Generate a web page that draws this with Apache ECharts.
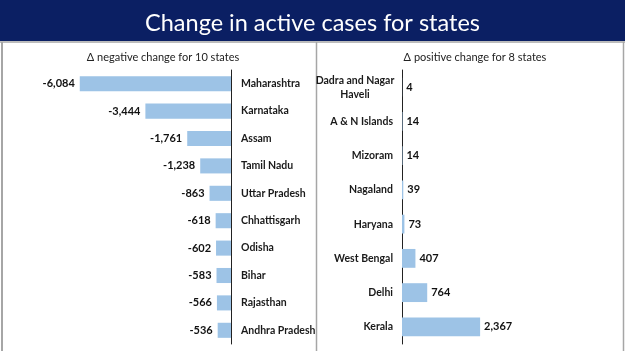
<!DOCTYPE html>
<html>
<head>
<meta charset="utf-8">
<script src="https://cdn.jsdelivr.net/npm/echarts@6/dist/echarts.min.js"></script>
<style>
  html, body { margin: 0; padding: 0; background: #fff; }
  #chart { width: 625px; height: 351px; }
</style>
</head>
<body>
<div id="chart"></div>
<script>
// States with falling active cases (left panel)
const negStates = ['Maharashtra', 'Karnataka', 'Assam', 'Tamil Nadu', 'Uttar Pradesh',
    'Chhattisgarh', 'Odisha', 'Bihar', 'Rajasthan', 'Andhra Pradesh'];
const negValues = [-6084, -3444, -1761, -1238, -863, -618, -602, -583, -566, -536];

// States with rising active cases (right panel)
const posStates = ['Dadra and Nagar Haveli', 'A & N Islands', 'Mizoram', 'Nagaland',
    'Haryana', 'West Bengal', 'Delhi', 'Kerala'];
const posValues = [4, 14, 14, 39, 73, 407, 764, 2367];

const FONT = 'Lato, "Open Sans", sans-serif';
const BAR = '#9dc3e6';
const BORDER = '#a6a6a6';

const fmt = v => Number(v).toLocaleString('en-US');

const chart = echarts.init(document.getElementById('chart'));

const catLabel = {
    fontFamily: FONT,
    fontWeight: 'bold',
    fontSize: 10.5,
    color: '#1a1a1a'
};

chart.setOption({
    animation: false,
    title: [
        {
            text: 'Change in active cases for states',
            left: 'center', top: 6,
            textStyle: { fontFamily: FONT, fontWeight: 'normal', fontSize: 23.5, color: '#fff' }
        },
        {
            text: 'Δ negative change for 10 states',
            left: 158, top: 47, textAlign: 'center',
            textStyle: { fontFamily: FONT, fontWeight: 'normal', fontSize: 11, color: '#222' }
        },
        {
            text: 'Δ positive change for 8 states',
            left: 470, top: 47, textAlign: 'center',
            textStyle: { fontFamily: FONT, fontWeight: 'normal', fontSize: 11, color: '#222' }
        }
    ],
    graphic: [
        { type: 'rect', z: -1, shape: { x: 0, y: 0, width: 625, height: 41 }, style: { fill: '#0b1f63' } },
        { type: 'line', shape: { x1: 0, y1: 42, x2: 625, y2: 42 }, style: { stroke: BORDER, lineWidth: 1.5 } },
        { type: 'line', shape: { x1: 2, y1: 42, x2: 2, y2: 351 }, style: { stroke: BORDER, lineWidth: 2 } },
        { type: 'line', shape: { x1: 316.5, y1: 42, x2: 316.5, y2: 351 }, style: { stroke: BORDER, lineWidth: 1.5 } },
        { type: 'line', shape: { x1: 623.5, y1: 42, x2: 623.5, y2: 351 }, style: { stroke: BORDER, lineWidth: 1.5 } }
    ],
    grid: [
        { left: 57, width: 174, top: 70, bottom: 7 },
        { left: 402, width: 165, top: 70, bottom: 7 }
    ],
    xAxis: [
        { gridIndex: 0, type: 'value', min: -7000, max: 0, show: false },
        { gridIndex: 1, type: 'value', min: 0, max: 5000, show: false }
    ],
    yAxis: [
        {
            gridIndex: 0, type: 'category', data: negStates, inverse: true, position: 'right',
            axisLine: { lineStyle: { color: '#222', width: 1 } },
            axisTick: { length: 3, lineStyle: { color: '#222' } },
            axisLabel: Object.assign({ margin: 10, align: 'left' }, catLabel)
        },
        {
            gridIndex: 1, type: 'category', data: posStates, inverse: true, position: 'left',
            axisLine: { lineStyle: { color: '#222', width: 1 } },
            axisTick: { length: 3, lineStyle: { color: '#222' } },
            axisLabel: Object.assign({
                margin: 9,
                align: 'right',
                formatter: v => v === 'Dadra and Nagar Haveli'
                    ? '{c|Dadra and Nagar}\n{c|Haveli}'
                    : v,
                rich: {
                    c: Object.assign({ width: 76, align: 'center', lineHeight: 14 }, catLabel)
                }
            }, catLabel)
        }
    ],
    series: [
        {
            type: 'bar', xAxisIndex: 0, yAxisIndex: 0, data: negValues,
            barWidth: '55%',
            itemStyle: { color: BAR },
            label: {
                show: true, position: 'left', distance: 5,
                formatter: p => fmt(p.value),
                fontFamily: FONT, fontWeight: 'bold', fontSize: 11, color: '#111'
            }
        },
        {
            type: 'bar', xAxisIndex: 1, yAxisIndex: 1, data: posValues,
            barWidth: '55%',
            itemStyle: { color: BAR },
            label: {
                show: true, position: 'right', distance: 4,
                formatter: p => fmt(p.value),
                fontFamily: FONT, fontWeight: 'bold', fontSize: 11, color: '#111'
            }
        }
    ]
});
</script>
</body>
</html>
